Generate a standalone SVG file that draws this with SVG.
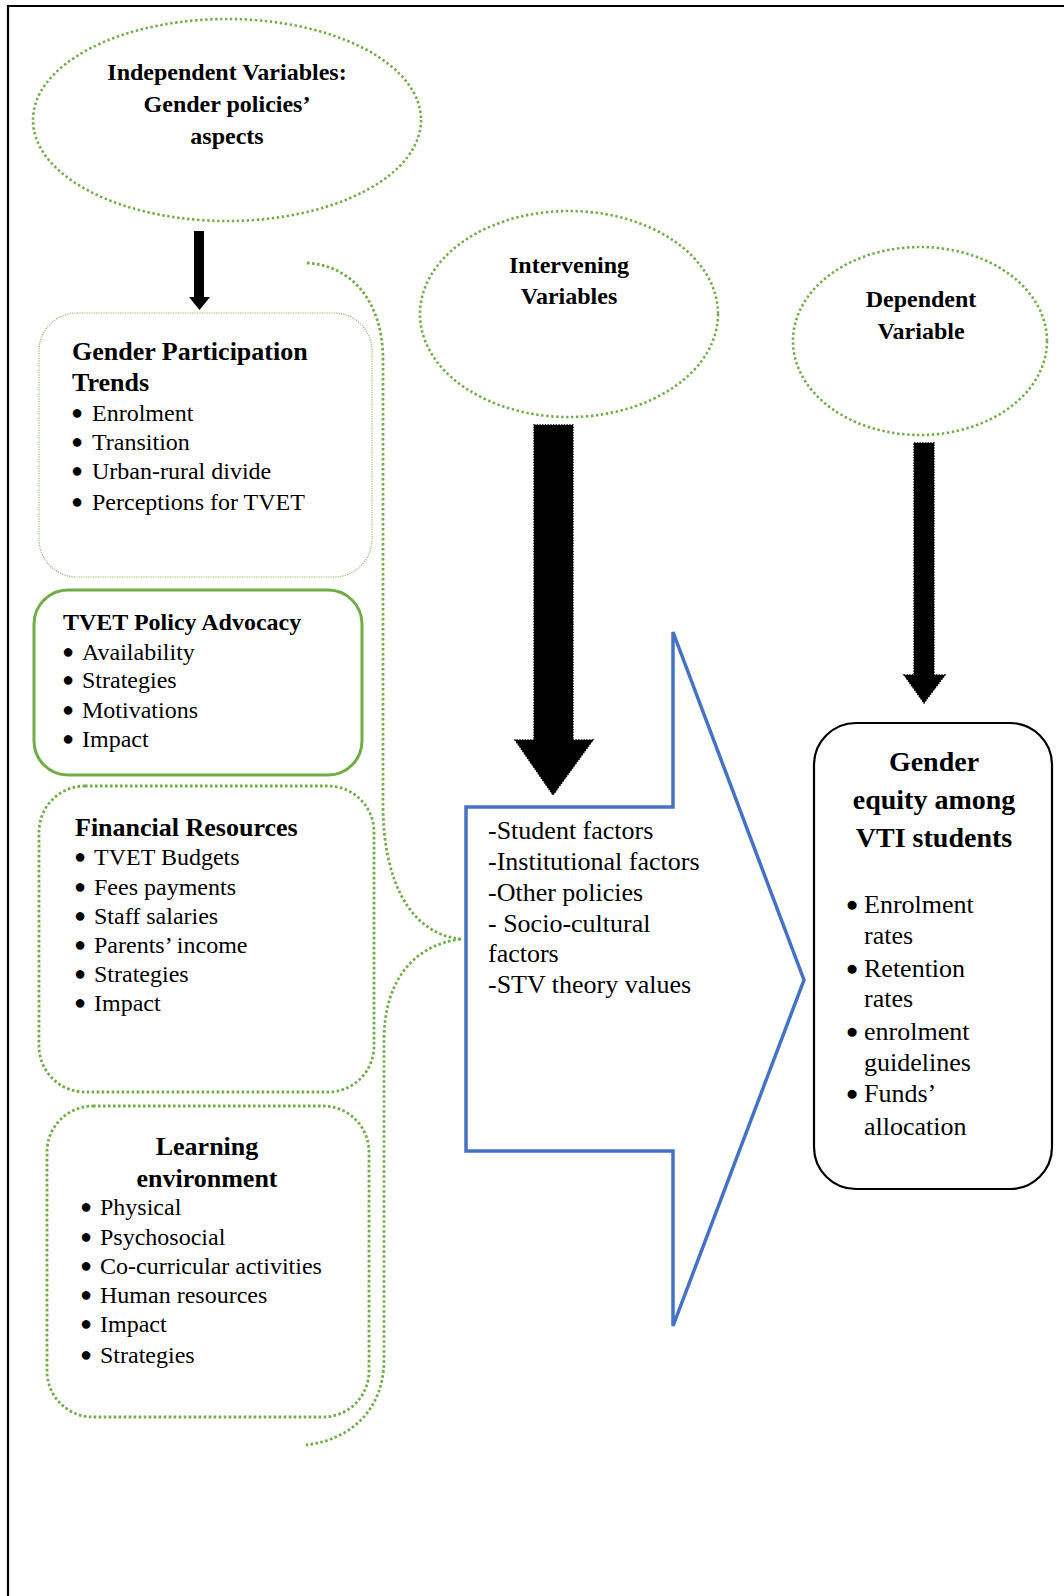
<svg xmlns="http://www.w3.org/2000/svg" width="1064" height="1596" viewBox="0 0 1064 1596">
<style>
text{font-family:"Liberation Serif","Times New Roman",serif;fill:#000}
.t{font-weight:bold;font-size:24px}
.h{font-weight:bold;font-size:26px}
.b{font-size:24px}
.u{font-size:20px;text-anchor:middle}
.m{text-anchor:middle}
.dotE{fill:none;stroke:#70ad47;stroke-width:2.6;stroke-dasharray:2.4 2.6}
.dotB{fill:none;stroke:#70ad47;stroke-width:2.8;stroke-dasharray:2.6 2.4}
.thin{fill:none;stroke:#82bd5b;stroke-width:1.1;stroke-dasharray:1.2 1.2}
.arr{fill:#000;stroke:#000;stroke-width:1.4;stroke-dasharray:1.5 1.2}
</style>
<rect width="1064" height="1596" fill="#fff"/>
<path d="M8 1596 V6 H1064" fill="none" stroke="#000" stroke-width="2.2"/>

<g id="independent">
<ellipse cx="227" cy="120" rx="194" ry="101" class="dotE"/>
<text class="t m" x="227" y="80">Independent Variables:</text>
<text class="t m" x="227" y="112">Gender policies’</text>
<text class="t m" x="227" y="144">aspects</text>
</g>

<g id="intervening">
<ellipse cx="569" cy="314" rx="149" ry="103" class="dotE"/>
<text class="t m" x="569" y="273">Intervening</text>
<text class="t m" x="569" y="304">Variables</text>
</g>

<g id="dependent">
<ellipse cx="920" cy="341" rx="127" ry="94" class="dotE"/>
<text class="t m" x="921" y="307">Dependent</text>
<text class="t m" x="921" y="339">Variable</text>
</g>

<g id="participation">
<rect x="39" y="313" width="333" height="264" rx="38" class="thin"/>
<text class="h" x="72" y="360">Gender Participation</text>
<text class="h" x="72" y="391">Trends</text>
<text class="u" x="77" y="419">●</text><text class="b" x="92" y="421">Enrolment</text>
<text class="u" x="77" y="448">●</text><text class="b" x="92" y="450">Transition</text>
<text class="u" x="77" y="477">●</text><text class="b" x="92" y="479">Urban-rural divide</text>
<text class="u" x="77" y="508">●</text><text class="b" x="92" y="510">Perceptions for TVET</text>
</g>

<g id="advocacy">
<rect x="34" y="590" width="328" height="185" rx="34" fill="none" stroke="#70ad47" stroke-width="3"/>
<text class="t" x="63" y="630">TVET Policy Advocacy</text>
<text class="u" x="68" y="658">●</text><text class="b" x="82" y="660">Availability</text>
<text class="u" x="68" y="686">●</text><text class="b" x="82" y="688">Strategies</text>
<text class="u" x="68" y="716">●</text><text class="b" x="82" y="718">Motivations</text>
<text class="u" x="68" y="745">●</text><text class="b" x="82" y="747">Impact</text>
</g>

<g id="financial">
<rect x="39" y="786" width="335" height="306" rx="46" class="dotB"/>
<text class="h" x="75" y="836">Financial Resources</text>
<text class="u" x="80" y="863">●</text><text class="b" x="94" y="865">TVET Budgets</text>
<text class="u" x="80" y="893">●</text><text class="b" x="94" y="895">Fees payments</text>
<text class="u" x="80" y="922">●</text><text class="b" x="94" y="924">Staff salaries</text>
<text class="u" x="80" y="951">●</text><text class="b" x="94" y="953">Parents’ income</text>
<text class="u" x="80" y="980">●</text><text class="b" x="94" y="982">Strategies</text>
<text class="u" x="80" y="1009">●</text><text class="b" x="94" y="1011">Impact</text>
</g>

<g id="learning">
<rect x="47" y="1106" width="322" height="311" rx="46" class="dotB"/>
<text class="h m" x="207" y="1155">Learning</text>
<text class="h m" x="207" y="1187">environment</text>
<text class="u" x="86" y="1213">●</text><text class="b" x="100" y="1215">Physical</text>
<text class="u" x="86" y="1243">●</text><text class="b" x="100" y="1245">Psychosocial</text>
<text class="u" x="86" y="1272">●</text><text class="b" x="100" y="1274">Co-curricular activities</text>
<text class="u" x="86" y="1301">●</text><text class="b" x="100" y="1303">Human resources</text>
<text class="u" x="86" y="1330">●</text><text class="b" x="100" y="1332">Impact</text>
<text class="u" x="86" y="1361">●</text><text class="b" x="100" y="1363">Strategies</text>
</g>

<g id="intervening-factors">
<polygon points="466,807 673,807 673,632 804,980 673,1326 673,1151 466,1151" fill="#fff" stroke="#4472c4" stroke-width="3.5" stroke-linejoin="miter"/>
<text style="font-size:26px" x="488" y="839">-Student factors</text>
<text style="font-size:26px" x="488" y="870">-Institutional factors</text>
<text style="font-size:26px" x="488" y="901">-Other policies</text>
<text style="font-size:26px" x="488" y="932">- Socio-cultural</text>
<text style="font-size:26px" x="488" y="962">factors</text>
<text style="font-size:26px" x="488" y="993">-STV theory values</text>
</g>

<g id="outcome">
<rect x="814" y="723" width="238" height="466" rx="42" fill="#fff" stroke="#000" stroke-width="2.2"/>
<text class="m" style="font-weight:bold;font-size:28px" x="934" y="771">Gender</text>
<text class="m" style="font-weight:bold;font-size:28px" x="934" y="809">equity among</text>
<text class="m" style="font-weight:bold;font-size:28px" x="934" y="847">VTI students</text>
<text class="u" style="font-size:21px" x="852" y="911">●</text><text style="font-size:26px" x="864" y="913">Enrolment</text>
<text style="font-size:26px" x="864" y="944">rates</text>
<text class="u" style="font-size:21px" x="852" y="975">●</text><text style="font-size:26px" x="864" y="977">Retention</text>
<text style="font-size:26px" x="864" y="1007">rates</text>
<text class="u" style="font-size:21px" x="852" y="1038">●</text><text style="font-size:26px" x="864" y="1040">enrolment</text>
<text style="font-size:26px" x="864" y="1071">guidelines</text>
<text class="u" style="font-size:21px" x="852" y="1100">●</text><text style="font-size:26px" x="864" y="1102">Funds’</text>
<text style="font-size:26px" x="864" y="1135">allocation</text>
</g>

<g id="connectors">
<polygon points="194,231 204,231 204,297 210,297 199.5,310 189,297 194,297" fill="#000"/>
<polygon class="arr" points="534,425 573,425 573,740 593,740 553,795 515,740 534,740"/>
<polygon class="arr" points="914,443 934,443 934,675 945,675 924,703 904,675 914,675"/>
<path class="dotB" d="M307 263 C350 265 383 300 383 360 L383 805 C383 880 410 935 462 939 C410 945 384 985 384 1040 L384 1360 C384 1410 350 1440 306 1445"/>
</g>
</svg>
